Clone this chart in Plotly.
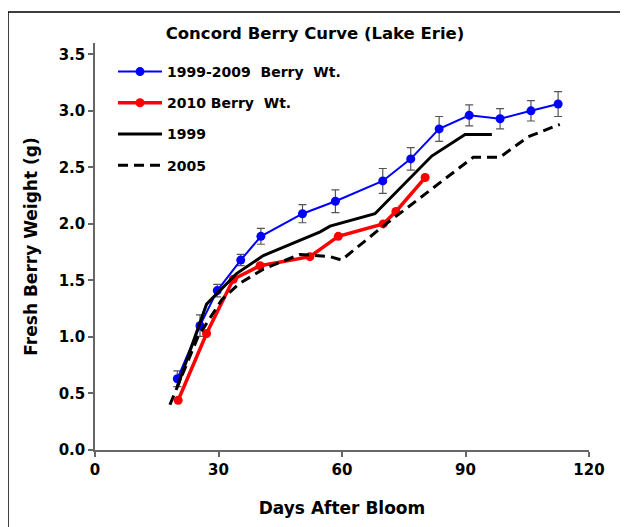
import plotly.graph_objects as go

# 1999-2009 average berry weight with error bars
avg_days = [20, 25.5, 29.7, 35.4, 40.3, 50.4, 58.4, 69.9, 76.7, 83.6, 90.9, 98.4, 105.9, 112.5]
avg_wt = [0.63, 1.10, 1.41, 1.68, 1.89, 2.09, 2.20, 2.38, 2.575, 2.84, 2.96, 2.93, 3.00, 3.06]
avg_err = [0.07, 0.095, 0.055, 0.05, 0.07, 0.08, 0.10, 0.11, 0.10, 0.11, 0.093, 0.09, 0.09, 0.11]

# 2010 berry weight
y2010_days = [20.2, 27.1, 33.6, 40.1, 52.2, 59.1, 70.0, 73.1, 80.2]
y2010_wt = [0.44, 1.03, 1.51, 1.63, 1.71, 1.89, 2.00, 2.11, 2.41]

# 1999
y1999_days = [20, 27.1, 34.4, 40.9, 54.7, 57.1, 68, 81.8, 89.9, 96.4]
y1999_wt = [0.56, 1.29, 1.56, 1.72, 1.93, 1.98, 2.09, 2.60, 2.79, 2.79]

# 2005
y2005_days = [18.2, 25, 30.8, 35, 40.9, 49.8, 57.1, 59.9, 70, 81.4, 91.9, 98.4, 105.2, 112.9]
y2005_wt = [0.40, 1.00, 1.33, 1.47, 1.60, 1.73, 1.71, 1.68, 1.98, 2.30, 2.59, 2.59, 2.77, 2.88]

x_ticks = [0, 30, 60, 90, 120]
y_ticks = [0, 0.5, 1.0, 1.5, 2.0, 2.5, 3.0, 3.5]
y_tick_text = ["0.0", "0.5", "1.0", "1.5", "2.0", "2.5", "3.0", "3.5"]

FONT = "DejaVu Sans, Verdana, sans-serif"
BOLD = "bold"

fig = go.Figure()
fig.add_trace(go.Scatter(
    x=avg_days, y=avg_wt, mode="lines+markers",
    name="1999-2009\u00a0 Berry\u00a0 Wt.", legendgroup="a",
    line=dict(color="#0000ff", width=2),
    marker=dict(color="#0000ff", size=9),
    error_y=dict(type="data", array=avg_err, visible=True,
                 color="#555555", thickness=1.2, width=4),
))
fig.add_trace(go.Scatter(
    x=y2010_days, y=y2010_wt, mode="lines+markers",
    name="2010 Berry\u00a0 Wt.", legendgroup="b",
    line=dict(color="#ff0000", width=3.5),
    marker=dict(color="#ff0000", size=9),
))
fig.add_trace(go.Scatter(
    x=y1999_days, y=y1999_wt, mode="lines",
    name="1999", legendgroup="c",
    line=dict(color="#000000", width=3),
))
fig.add_trace(go.Scatter(
    x=y2005_days, y=y2005_wt, mode="lines",
    name="2005", legendgroup="d",
    line=dict(color="#000000", width=3, dash="10px,6px"),
))

# page body has an 8px default margin; compensate so the plot lands where the reference has it
OFF = 8
W, H = 628, 527
L, T = 95 - OFF, 43 - OFF
pw, ph = 494, 407
R = W - L - pw
B = H - T - ph

def px_x(p):
    return (p - OFF - L) / pw

def px_y(p):
    return (T + ph - (p - OFF)) / ph

fig.update_layout(
    width=W, height=H,
    margin=dict(l=L, r=R, t=T, b=B, pad=0),
    paper_bgcolor="white", plot_bgcolor="white",
    font=dict(family=FONT, size=15, color="black", weight=BOLD),
    title=dict(text="Concord Berry Curve (Lake Erie)", xref="paper", x=px_x(315), xanchor="center",
               yref="container", y=1 - (33 - OFF) / H, yanchor="middle",
               font=dict(family=FONT, size=16.5, color="black", weight=BOLD)),
    showlegend=True,
    legend=dict(x=px_x(113), y=px_y(56), xanchor="left", yanchor="top",
                bgcolor="rgba(0,0,0,0)", traceorder="grouped", tracegroupgap=10,
                font=dict(family=FONT, size=14, color="black", weight=BOLD),
                itemwidth=44),
    xaxis=dict(range=[0, 120], tickvals=x_ticks, ticktext=[str(v) for v in x_ticks],
               showgrid=False, zeroline=False, showline=True, linecolor="#666666", linewidth=1.5,
               ticks="outside", ticklen=5, tickcolor="#666666", tickwidth=1.5,
               tickfont=dict(family=FONT, size=15, color="black", weight=BOLD),
               title=dict(text="Days After Bloom", standoff=24,
                          font=dict(family=FONT, size=17, color="black", weight=BOLD))),
    yaxis=dict(range=[0, 3.6], tickvals=y_ticks, ticktext=y_tick_text,
               showgrid=False, zeroline=False, showline=True, linecolor="#666666", linewidth=1.5,
               ticks="outside", ticklen=5, tickcolor="#666666", tickwidth=1.5,
               tickfont=dict(family=FONT, size=15, color="black", weight=BOLD),
               title=dict(text="Fresh Berry Weight (g)", standoff=17,
                          font=dict(family=FONT, size=17, color="black", weight=BOLD))),
    shapes=[dict(type="rect", xref="paper", yref="paper",
                 x0=px_x(8), x1=px_x(622), y0=px_y(545), y1=px_y(12),
                 line=dict(color="black", width=1.5), fillcolor="rgba(0,0,0,0)", layer="below")],
)

fig.write_html("out.html")
